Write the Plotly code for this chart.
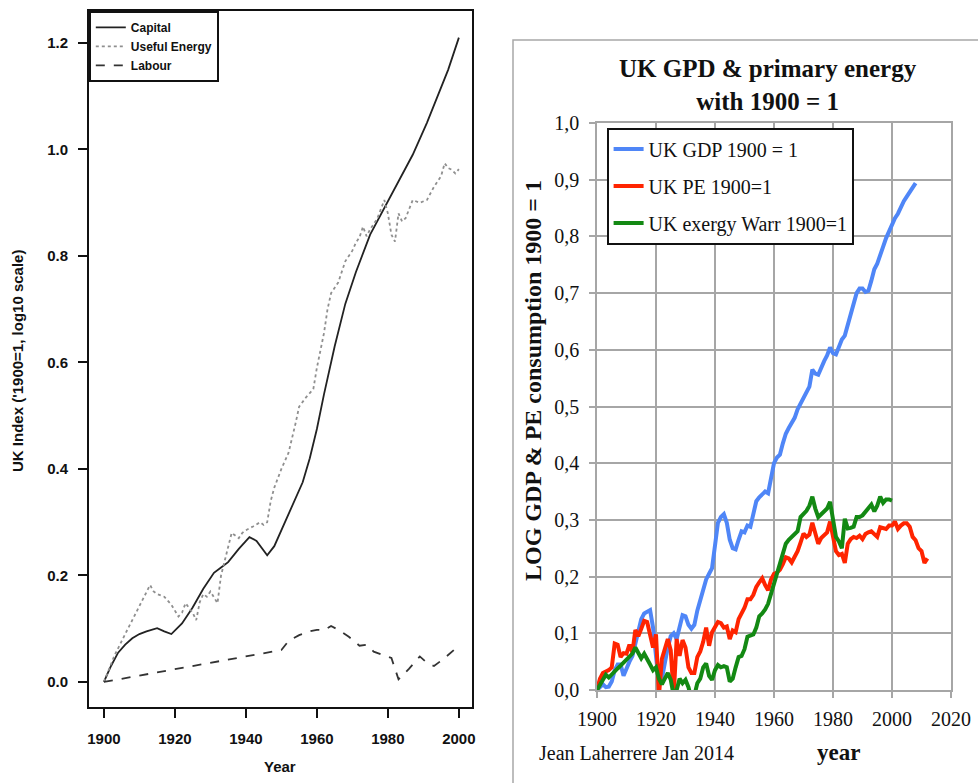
import plotly.graph_objects as go

W, H = 978, 783

# ---------------- Left panel data ----------------
cap_years = [1900, 1902, 1904, 1906, 1908, 1910, 1912, 1915, 1917, 1919, 1922, 1925, 1928, 1931,
             1933, 1935, 1938, 1941, 1943, 1946, 1948, 1950, 1953, 1956, 1958, 1960, 1962, 1965,
             1968, 1971, 1975, 1979, 1983, 1987, 1991, 1994, 1997, 2000]
cap_vals = [0, 0.03, 0.055, 0.07, 0.082, 0.09, 0.095, 0.101, 0.095, 0.09, 0.11, 0.14, 0.175, 0.205,
            0.215, 0.225, 0.25, 0.272, 0.265, 0.238, 0.255, 0.285, 0.33, 0.375, 0.42, 0.475, 0.54, 0.63,
            0.71, 0.77, 0.84, 0.89, 0.94, 0.99, 1.05, 1.10, 1.15, 1.21]

ue_years = [1900, 1903, 1906, 1909, 1911, 1913, 1914, 1915, 1917, 1919, 1921, 1922, 1923, 1924, 1925,
            1926, 1927, 1928, 1929, 1930, 1931, 1932, 1933, 1935, 1936, 1937, 1938, 1939, 1940, 1942,
            1944, 1945, 1946, 1947, 1948, 1950, 1952, 1954, 1955, 1957, 1959, 1960, 1962, 1963, 1964,
            1966, 1968, 1970, 1971, 1972, 1973, 1974, 1975, 1977, 1979, 1980, 1981, 1982, 1983, 1984,
            1985, 1987, 1989, 1991, 1993, 1995, 1996, 1997, 1998, 1999, 2000]
ue_vals = [0, 0.05, 0.09, 0.13, 0.155, 0.182, 0.17, 0.165, 0.16, 0.145, 0.123, 0.13, 0.148, 0.14, 0.13,
           0.116, 0.15, 0.165, 0.16, 0.17, 0.16, 0.148, 0.2, 0.25, 0.28, 0.275, 0.27, 0.28, 0.285, 0.292,
           0.30, 0.295, 0.30, 0.34, 0.365, 0.40, 0.43, 0.486, 0.517, 0.535, 0.55, 0.59, 0.655, 0.70, 0.73,
           0.75, 0.79, 0.81, 0.825, 0.835, 0.855, 0.837, 0.85, 0.87, 0.905, 0.88, 0.84, 0.827, 0.88, 0.865,
           0.871, 0.905, 0.90, 0.905, 0.93, 0.95, 0.974, 0.965, 0.962, 0.955, 0.963]

lab_years = [1900, 1910, 1920, 1930, 1940, 1950, 1952, 1955, 1958, 1960, 1962, 1964, 1966, 1969, 1972,
             1974, 1976, 1979, 1981, 1983, 1986, 1989, 1991, 1993, 1996, 2000]
lab_vals = [0, 0.012, 0.024, 0.036, 0.048, 0.06, 0.077, 0.088, 0.095, 0.098, 0.097, 0.105, 0.098, 0.085,
            0.068, 0.07, 0.057, 0.05, 0.045, 0.005, 0.025, 0.048, 0.036, 0.03, 0.045, 0.068]

left_xticks = [1900, 1920, 1940, 1960, 1980, 2000]
left_yticks = [0.0, 0.2, 0.4, 0.6, 0.8, 1.0, 1.2]
left_yticktext = ["0.0", "0.2", "0.4", "0.6", "0.8", "1.0", "1.2"]

# ---------------- Right panel data ----------------
gdp_start = 1900
gdp_vals = [0.00, 0.005, 0.01, 0.005, 0.006, 0.015, 0.035, 0.045, 0.045, 0.025,
            0.04, 0.05, 0.06, 0.08, 0.10, 0.125, 0.135, 0.138, 0.141, 0.11,
            0.06, 0.01, 0.02, 0.05, 0.075, 0.095, 0.10, 0.09, 0.115, 0.132,
            0.13, 0.115, 0.108, 0.115, 0.14, 0.16, 0.18, 0.195, 0.205, 0.215,
            0.255, 0.295, 0.305, 0.31, 0.295, 0.265, 0.25, 0.248, 0.265, 0.28,
            0.278, 0.29, 0.288, 0.315, 0.333, 0.34, 0.345, 0.35, 0.347, 0.372,
            0.40, 0.41, 0.415, 0.435, 0.452, 0.462, 0.47, 0.48, 0.495, 0.505,
            0.512, 0.525, 0.535, 0.565, 0.558, 0.556, 0.57, 0.58, 0.59, 0.604,
            0.594, 0.592, 0.605, 0.618, 0.625, 0.645, 0.665, 0.682, 0.70, 0.708,
            0.708, 0.702, 0.704, 0.722, 0.742, 0.752, 0.765, 0.782, 0.797, 0.81,
            0.822, 0.832, 0.84, 0.852, 0.862, 0.87, 0.878, 0.888, 0.894]

pe_start = 1900
pe_vals = [0.0, 0.02, 0.03, 0.032, 0.035, 0.04, 0.082, 0.08, 0.058, 0.065,
           0.064, 0.08, 0.066, 0.106, 0.095, 0.108, 0.122, 0.12, 0.095, 0.075,
           0.098, -0.01, 0.055, 0.075, 0.09, 0.07, -0.01, 0.09, 0.06, 0.088,
           0.075, 0.04, 0.03, 0.03, 0.058, 0.068, 0.085, 0.11, 0.078, 0.102,
           0.112, 0.12, 0.118, 0.11, 0.112, 0.09, 0.105, 0.102, 0.125, 0.135,
           0.145, 0.16, 0.16, 0.168, 0.182, 0.19, 0.197, 0.185, 0.176, 0.195,
           0.205, 0.207, 0.212, 0.222, 0.234, 0.232, 0.225, 0.235, 0.245, 0.26,
           0.276, 0.27, 0.274, 0.295, 0.275, 0.258, 0.268, 0.272, 0.278, 0.297,
           0.27, 0.245, 0.238, 0.24, 0.224, 0.258, 0.266, 0.27, 0.268, 0.272,
           0.266, 0.275, 0.278, 0.28, 0.275, 0.27, 0.287, 0.285, 0.284, 0.29,
           0.29, 0.297, 0.284, 0.29, 0.294, 0.294, 0.288, 0.27, 0.264, 0.25,
           0.245, 0.224, 0.232]

ex_start = 1900
ex_vals = [0.0, 0.01, 0.02, 0.027, 0.022, 0.028, 0.033, 0.038, 0.043, 0.048,
           0.052, 0.058, 0.064, 0.075, 0.065, 0.056, 0.064, 0.056, 0.045, 0.035,
           0.04, 0.02, 0.01, 0.02, 0.03, 0.018, -0.01, 0.0, 0.02, 0.012,
           0.018, 0.005, -0.015, -0.01, 0.012, 0.02, 0.04, 0.047, 0.025, 0.018,
           0.035, 0.044, 0.04, 0.042, 0.04, 0.015, 0.02, 0.04, 0.058, 0.06,
           0.072, 0.094, 0.096, 0.098, 0.11, 0.13, 0.135, 0.142, 0.152, 0.17,
           0.19, 0.206, 0.225, 0.245, 0.258, 0.265, 0.27, 0.275, 0.28, 0.305,
           0.31, 0.316, 0.325, 0.341, 0.32, 0.305, 0.31, 0.316, 0.32, 0.332,
           0.30, 0.27, 0.262, 0.25, 0.302, 0.285, 0.286, 0.288, 0.305, 0.305,
           0.308, 0.314, 0.322, 0.327, 0.315, 0.325, 0.341, 0.33, 0.336, 0.336,
           0.334]

right_xticks = [1900, 1920, 1940, 1960, 1980, 2000, 2020]
right_yticks = [0.0, 0.1, 0.2, 0.3, 0.4, 0.5, 0.6, 0.7, 0.8, 0.9, 1.0]
right_yticktext = ["0,0", "0,1", "0,2", "0,3", "0,4", "0,5", "0,6", "0,7", "0,8", "0,9", "1,0"]

gdp_years = list(range(gdp_start, gdp_start + len(gdp_vals)))
pe_years = list(range(pe_start, pe_start + len(pe_vals)))
ex_years = list(range(ex_start, ex_start + len(ex_vals)))

SANS = "Liberation Sans, Arial, sans-serif"
SERIF = "Liberation Serif, Times New Roman, serif"

def px(x):
    return x / W

def py(y):
    return 1 - y / H

fig = go.Figure()

# Left traces
fig.add_trace(go.Scatter(x=cap_years, y=cap_vals, mode="lines", name="Capital",
                         line=dict(color="#222222", width=1.8), xaxis="x", yaxis="y", legend="legend"))
fig.add_trace(go.Scatter(x=ue_years, y=ue_vals, mode="lines", name="Useful Energy",
                         line=dict(color="#8f8f8f", width=1.8, dash="dot"), xaxis="x", yaxis="y", legend="legend"))
fig.add_trace(go.Scatter(x=lab_years, y=lab_vals, mode="lines", name="Labour",
                         line=dict(color="#333333", width=1.8, dash="dash"), xaxis="x", yaxis="y", legend="legend"))

# Right traces
fig.add_trace(go.Scatter(x=gdp_years, y=gdp_vals, mode="lines", name="UK GDP 1900 = 1",
                         line=dict(color="#4f86f7", width=4), xaxis="x2", yaxis="y2",
                         legend="legend2", legendgroup="g1"))
fig.add_trace(go.Scatter(x=pe_years, y=pe_vals, mode="lines", name="UK PE 1900=1",
                         line=dict(color="#ff2400", width=4), xaxis="x2", yaxis="y2",
                         legend="legend2", legendgroup="g2"))
fig.add_trace(go.Scatter(x=ex_years, y=ex_vals, mode="lines", name="UK exergy Warr 1900=1",
                         line=dict(color="#138913", width=4), xaxis="x2", yaxis="y2",
                         legend="legend2", legendgroup="g3"))

left_font = dict(family=SANS, size=15, color="#111111", weight="bold")
fig.update_layout(
    width=W, height=H, autosize=False,
    margin=dict(l=0, r=0, t=0, b=0, autoexpand=False),
    paper_bgcolor="white", plot_bgcolor="white",
    showlegend=True,
    xaxis=dict(domain=[px(89), px(472)], range=[1895.8, 2003.7], anchor="y", automargin=False,
               tickvals=left_xticks, ticks="outside", ticklen=9, tickwidth=1.5, tickcolor="#111",
               showline=True, linecolor="#111", linewidth=1.8, mirror=True,
               showgrid=False, zeroline=False, tickfont=left_font, ticklabelstandoff=8),
    yaxis=dict(domain=[py(707), py(11)], range=[-0.047, 1.26], anchor="x", automargin=False,
               tickvals=left_yticks, ticktext=left_yticktext, ticks="outside", ticklen=9,
               tickwidth=1.5, tickcolor="#111",
               showline=True, linecolor="#111", linewidth=1.8, mirror=True,
               showgrid=False, zeroline=False, tickfont=left_font, ticklabelstandoff=7),
    xaxis2=dict(domain=[px(597), px(951)], range=[1900, 2020], anchor="y2", automargin=False,
                tickvals=right_xticks, ticks="outside", ticklen=6, tickwidth=1.5, tickcolor="#a6a6a6",
                showline=True, linecolor="#a6a6a6", linewidth=1.5, mirror=True,
                showgrid=True, gridcolor="#a6a6a6", gridwidth=1.5, zeroline=False,
                tickfont=dict(family=SERIF, size=20, color="#111"), ticklabelstandoff=4),
    yaxis2=dict(domain=[py(690), py(123)], range=[0, 1.0], anchor="x2", automargin=False,
                tickvals=right_yticks, ticktext=right_yticktext, ticks="outside", ticklen=6,
                tickwidth=1.5, tickcolor="#a6a6a6",
                showline=True, linecolor="#a6a6a6", linewidth=1.5, mirror=True,
                showgrid=True, gridcolor="#a6a6a6", gridwidth=1.5, zeroline=False,
                tickfont=dict(family=SERIF, size=20, color="#111"), ticklabelstandoff=6),
    legend=dict(x=px(89), y=py(11), xanchor="left", yanchor="top",
                bgcolor="white", bordercolor="#111", borderwidth=1.8,
                font=dict(family=SANS, size=12, color="#111", weight="bold"),
                tracegroupgap=0, itemwidth=30),
    legend2=dict(x=px(607), y=py(128), xanchor="left", yanchor="top",
                 bgcolor="white", bordercolor="#111", borderwidth=1.6,
                 font=dict(family=SERIF, size=20, color="#111"),
                 tracegroupgap=8, itemwidth=30),
)

# Right panel frame
fig.add_shape(type="rect", xref="paper", yref="paper",
              x0=px(513), y0=-0.05, x1=1.05, y1=py(40),
              line=dict(color="#a8a8a8", width=1.5), fillcolor="rgba(0,0,0,0)", layer="below")

annots = [
    dict(text="UK Index ('1900=1, log10 scale)", x=px(17), y=py(361), textangle=-90,
         font=dict(family=SANS, size=15, color="#111", weight="bold")),
    dict(text="Year", x=px(280), y=py(766),
         font=dict(family=SANS, size=15, color="#111", weight="bold")),
    dict(text="<b>UK GPD & primary energy<br>with 1900 = 1</b>", x=px(768), y=py(85),
         font=dict(family=SERIF, size=25, color="#111")),
    dict(text="<b>LOG GDP & PE consumption 1900 = 1</b>", x=px(533), y=py(381), textangle=-90,
         font=dict(family=SERIF, size=24, color="#111")),
    dict(text="<b>year</b>", x=px(838), y=py(752),
         font=dict(family=SERIF, size=23, color="#111")),
]
for a in annots:
    fig.add_annotation(xref="paper", yref="paper", showarrow=False,
                       xanchor="center", yanchor="middle", **a)
fig.add_annotation(text="Jean Laherrere Jan 2014", xref="paper", yref="paper", showarrow=False,
                   x=px(537), y=py(753), xanchor="left", yanchor="middle",
                   font=dict(family=SERIF, size=20, color="#111"))

fig.write_html("out.html", config={"displayModeBar": False},
               post_script="document.body.style.margin='0';document.body.style.overflow='hidden';")
